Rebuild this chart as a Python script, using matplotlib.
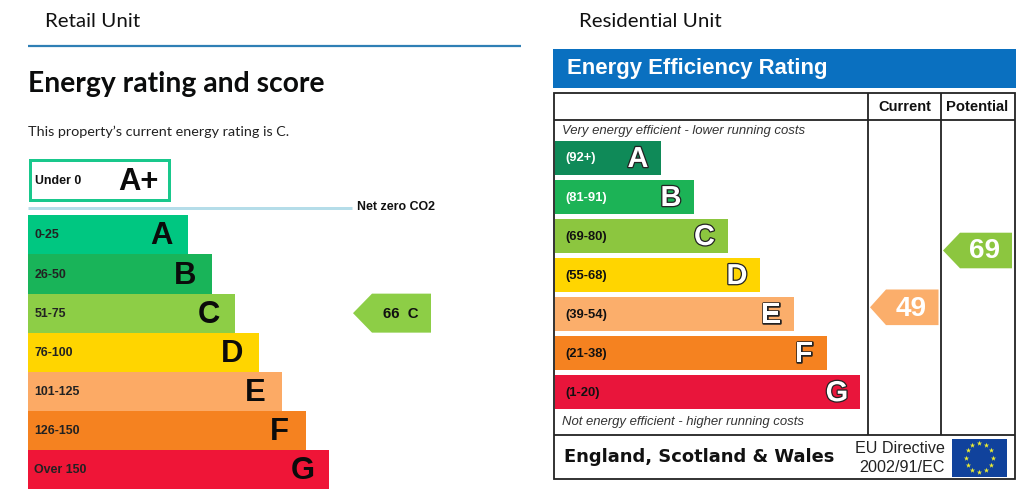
import numpy as np
import matplotlib
matplotlib.use("Agg")
import matplotlib.pyplot as plt
from matplotlib.patches import Polygon, Rectangle
import matplotlib.patheffects as pe

# ---- data ----
retail_letters = ["A", "B", "C", "D", "E", "F", "G"]
retail_ranges = ["0-25", "26-50", "51-75", "76-100", "101-125", "126-150", "Over 150"]
retail_lengths = [160, 184, 207, 230.5, 254, 277.5, 301]
retail_colors = ["#00c781", "#19b459", "#8dce46", "#ffd500", "#fcaa65", "#f58220", "#ef1537"]
retail_score = 66
retail_rating = "C"

res_letters = ["A", "B", "C", "D", "E", "F", "G"]
res_ranges = ["(92+)", "(81-91)", "(69-80)", "(55-68)", "(39-54)", "(21-38)", "(1-20)"]
res_lengths = [106, 139, 172.5, 205, 239, 272, 305]
res_colors = ["#0f8a58", "#1cb356", "#8cc63f", "#ffd500", "#fbae6b", "#f58220", "#e9153b"]
res_range_colors = ["white", "white", "#111111", "#111111", "#111111", "#111111", "#111111"]
res_current = 49
res_potential = 69

SANS = "Liberation Sans"
px = 0.72  # px -> pt at dpi 100

fig = plt.figure(figsize=(10.24, 5.01), dpi=100, facecolor="white")
ax = fig.add_axes([0, 0, 1, 1])
ax.set_xlim(0, 1024)
ax.set_ylim(501, 0)
ax.axis("off")

# ---- left panel ----
ax.text(45, 21.5, "Retail Unit", family="Lato", fontsize=20.5 * px, va="center", color="#111111")
ax.plot([28, 521], [46, 46], color="#2f7fb5", lw=1.6, solid_capstyle="butt")
ax.text(28, 83.5, "Energy rating and score", family="Lato", weight="bold",
        fontsize=28.2 * px, va="center", color="#0b0c0c")
ax.text(28, 131.5, "This property\u2019s current energy rating is C.", family="Lato",
        fontsize=14.35 * px, va="center", color="#222222")

ax.add_patch(Rectangle((30, 160), 139, 40, fc="white", ec="#19c88c", lw=3 * px))
ax.text(35, 180.5, "Under 0", family=SANS, weight="bold", fontsize=12.4 * px, va="center", color="#111111")
ax.text(138, 181.5, "A+", family=SANS, weight="bold", fontsize=31 * px, va="center", ha="center", color="#0b0b0b")
ax.plot([28, 352], [207.5, 207.5], color="#b5dde9", lw=3 * px, solid_capstyle="butt")
ax.text(357, 207.5, "Net zero CO2", family=SANS, weight="bold", fontsize=12.4 * px, va="center", color="#111111")

retail_y = 235 + 39.07 * np.arange(len(retail_letters))
ax.barh(retail_y, retail_lengths, height=39.2, left=28, color=retail_colors, linewidth=0)
for y, length, rng, letter in zip(retail_y, retail_lengths, retail_ranges, retail_letters):
    ax.text(34.5, y + 0.5, rng, family=SANS, weight="bold", fontsize=12.4 * px, va="center", color="#222222")
    ax.text(28 + length - 26.5, y + 1.5, letter, family=SANS, weight="bold", fontsize=31 * px,
            va="center", ha="center", color="#0b0b0b")

cy = retail_y[retail_letters.index(retail_rating)]
ax.add_patch(Polygon([(353, cy), (372, cy - 19.5), (431, cy - 19.5), (431, cy + 19.5), (372, cy + 19.5)],
                     closed=True, fc=retail_colors[2], ec="none"))
ax.text(401, cy + 0.5, f"{retail_score}  {retail_rating}", family=SANS, weight="bold", fontsize=15 * px,
        va="center", ha="center", color="#111111")

# ---- right panel ----
ax.text(579, 21.5, "Residential Unit", family="Lato", fontsize=20.5 * px, va="center", color="#111111")
ax.add_patch(Rectangle((553, 49), 463, 38.5, fc="#0a70c0", ec="none"))
ax.text(567, 68.5, "Energy Efficiency Rating", family=SANS, weight="bold", fontsize=22.1 * px,
        va="center", color="white")

line = dict(color="#222222", lw=1.3, solid_capstyle="butt")
ax.add_patch(Rectangle((554, 92.5), 460.5, 386, fc="none", ec="#222222", lw=1.3))
ax.plot([554, 1014.5], [120, 120], **line)
ax.plot([554, 1014.5], [435, 435], **line)
ax.plot([867.5, 867.5], [92.5, 435], **line)
ax.plot([940.5, 940.5], [92.5, 435], **line)

ax.text(904.5, 106.5, "Current", family=SANS, weight="bold", fontsize=14.6 * px, va="center", ha="center", color="#111111")
ax.text(977, 106.5, "Potential", family=SANS, weight="bold", fontsize=14.8 * px, va="center", ha="center", color="#111111")
ax.text(561.5, 131, "Very energy efficient - lower running costs", family=SANS, style="italic",
        fontsize=13.1 * px, va="center", color="#333333")
ax.text(561.5, 421.5, "Not energy efficient - higher running costs", family=SANS, style="italic",
        fontsize=13.1 * px, va="center", color="#333333")

res_y = 158 + 39.03 * np.arange(len(res_letters))
ax.barh(res_y, res_lengths, height=34.2, left=555, color=res_colors, linewidth=0)
for y, length, rng, rc, letter in zip(res_y, res_lengths, res_ranges, res_range_colors, res_letters):
    ax.text(565, y + 0.5, rng, family=SANS, weight="bold", fontsize=13 * px, va="center", color=rc)
    t = ax.text(555 + length - 23, y + 1, letter, family=SANS, weight="bold", fontsize=29 * px,
                va="center", ha="center", color="white")
    t.set_path_effects([pe.withStroke(linewidth=1.8, foreground="#222222")])

def arrow(tip, neck, right, y, half, color):
    ax.add_patch(Polygon([(tip, y), (neck, y - half), (right, y - half), (right, y + half), (neck, y + half)],
                         closed=True, fc=color, ec="none"))

arrow(870, 886, 938.5, 307.3, 17.8, res_colors[4])
ax.text(911.5, 308.5, str(res_current), family=SANS, weight="bold", fontsize=28 * px, va="center", ha="center", color="white")
arrow(943, 960, 1012, 250.5, 17.8, res_colors[2])
ax.text(984.5, 251.5, str(res_potential), family=SANS, weight="bold", fontsize=28 * px, va="center", ha="center", color="white")

ax.text(564, 456.5, "England, Scotland & Wales", family="DejaVu Sans", weight="bold",
        fontsize=17.9 * px, va="center", color="#111111")
ax.text(944.5, 448.5, "EU Directive", family=SANS, fontsize=16.1 * px, va="center", ha="right", color="#222222")
ax.text(944.5, 467.5, "2002/91/EC", family=SANS, fontsize=16.1 * px, va="center", ha="right", color="#222222")

ax.add_patch(Rectangle((952, 438.5), 54.5, 38.5, fc="#10429c", ec="none"))
theta = np.deg2rad(np.arange(0, 360, 30))
ax.scatter(979.2 + 13.5 * np.cos(theta), 457.5 + 14.5 * np.sin(theta), marker="*", s=16,
           color="#eeee33", linewidths=0)

fig.savefig("out.png", dpi=100, facecolor="white")
